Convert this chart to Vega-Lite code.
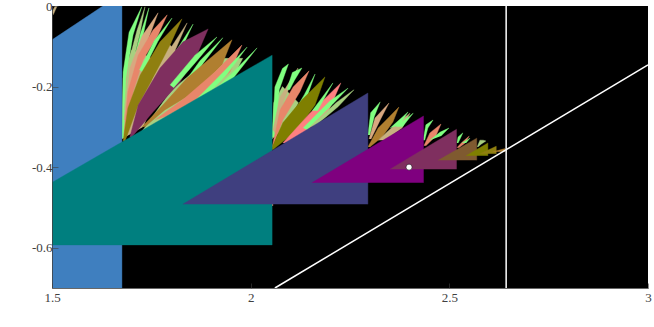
{"$schema":"https://vega.github.io/schema/vega-lite/v6.json","width":596,"height":282,"autosize":{"type":"none"},"padding":{"left":52,"top":6,"right":6,"bottom":33},"background":"white","view":{"fill":"#000000","stroke":null},"datasets":{"polys":[
{"s":"tl","c":"tan","i":0,"x":1.5,"y":-0.015},{"s":"tl","c":"tan","i":1,"x":1.508,"y":0},{"s":"tl","c":"tan","i":2,"x":1.513,"y":0},{"s":"tl","c":"tan","i":3,"x":1.503,"y":-0.022},
{"s":"b1","c":"tan","i":0,"x":1.676,"y":-0.33},{"s":"b1","c":"tan","i":1,"x":1.679,"y":-0.18},{"s":"b1","c":"tan","i":2,"x":1.70,"y":-0.11},{"s":"b1","c":"tan","i":3,"x":1.73,"y":-0.12},{"s":"b1","c":"tan","i":4,"x":1.75,"y":-0.13},{"s":"b1","c":"tan","i":5,"x":1.79,"y":-0.09},{"s":"b1","c":"tan","i":6,"x":1.82,"y":-0.12},{"s":"b1","c":"tan","i":7,"x":1.76,"y":-0.22},{"s":"b1","c":"tan","i":8,"x":1.73,"y":-0.30},
{"s":"b2","c":"sage","i":0,"x":1.72,"y":-0.32},{"s":"b2","c":"sage","i":1,"x":1.80,"y":-0.21},{"s":"b2","c":"sage","i":2,"x":1.86,"y":-0.16},{"s":"b2","c":"sage","i":3,"x":1.90,"y":-0.15},{"s":"b2","c":"sage","i":4,"x":1.92,"y":-0.13},{"s":"b2","c":"sage","i":5,"x":1.98,"y":-0.13},{"s":"b2","c":"sage","i":6,"x":1.95,"y":-0.19},{"s":"b2","c":"sage","i":7,"x":1.85,"y":-0.25},
{"s":"1a","c":"green","i":0,"x":1.676,"y":-0.328},{"s":"1a","c":"green","i":1,"x":1.679,"y":-0.164},{"s":"1a","c":"green","i":2,"x":1.694,"y":-0.065},{"s":"1a","c":"green","i":3,"x":1.726,"y":-0.002},{"s":"1a","c":"green","i":4,"x":1.704,"y":-0.072},{"s":"1a","c":"green","i":5,"x":1.686,"y":-0.179},{"s":"1a","c":"green","i":6,"x":1.681,"y":-0.328},
{"s":"1b","c":"sage","i":0,"x":1.681,"y":-0.258},{"s":"1b","c":"sage","i":1,"x":1.694,"y":-0.134},{"s":"1b","c":"sage","i":2,"x":1.714,"y":-0.060},{"s":"1b","c":"sage","i":3,"x":1.734,"y":-0.002},{"s":"1b","c":"sage","i":4,"x":1.722,"y":-0.065},{"s":"1b","c":"sage","i":5,"x":1.704,"y":-0.139},{"s":"1b","c":"sage","i":6,"x":1.686,"y":-0.258},
{"s":"1c","c":"green","i":0,"x":1.689,"y":-0.233},{"s":"1c","c":"green","i":1,"x":1.706,"y":-0.134},{"s":"1c","c":"green","i":2,"x":1.722,"y":-0.07},{"s":"1c","c":"green","i":3,"x":1.744,"y":-0.005},{"s":"1c","c":"green","i":4,"x":1.730,"y":-0.07},{"s":"1c","c":"green","i":5,"x":1.712,"y":-0.139},{"s":"1c","c":"green","i":6,"x":1.692,"y":-0.233},
{"s":"1d","c":"ltan","i":0,"x":1.681,"y":-0.283},{"s":"1d","c":"ltan","i":1,"x":1.696,"y":-0.154},{"s":"1d","c":"ltan","i":2,"x":1.727,"y":-0.074},{"s":"1d","c":"ltan","i":3,"x":1.767,"y":-0.017},{"s":"1d","c":"ltan","i":4,"x":1.740,"y":-0.089},{"s":"1d","c":"ltan","i":5,"x":1.711,"y":-0.164},{"s":"1d","c":"ltan","i":6,"x":1.689,"y":-0.283},
{"s":"1e","c":"salmon","i":0,"x":1.681,"y":-0.320},{"s":"1e","c":"salmon","i":1,"x":1.691,"y":-0.213},{"s":"1e","c":"salmon","i":2,"x":1.717,"y":-0.122},{"s":"1e","c":"salmon","i":3,"x":1.754,"y":-0.060},{"s":"1e","c":"salmon","i":4,"x":1.790,"y":-0.022},{"s":"1e","c":"salmon","i":5,"x":1.767,"y":-0.072},{"s":"1e","c":"salmon","i":6,"x":1.729,"y":-0.134},{"s":"1e","c":"salmon","i":7,"x":1.704,"y":-0.213},{"s":"1e","c":"salmon","i":8,"x":1.689,"y":-0.320},
{"s":"1f","c":"green","i":0,"x":1.720,"y":-0.159},{"s":"1f","c":"green","i":1,"x":1.758,"y":-0.085},{"s":"1f","c":"green","i":2,"x":1.802,"y":-0.030},{"s":"1f","c":"green","i":3,"x":1.766,"y":-0.089},{"s":"1f","c":"green","i":4,"x":1.728,"y":-0.164},
{"s":"1g","c":"olive2","i":0,"x":1.679,"y":-0.335},{"s":"1g","c":"olive2","i":1,"x":1.691,"y":-0.253},{"s":"1g","c":"olive2","i":2,"x":1.722,"y":-0.171},{"s":"1g","c":"olive2","i":3,"x":1.772,"y":-0.089},{"s":"1g","c":"olive2","i":4,"x":1.827,"y":-0.032},{"s":"1g","c":"olive2","i":5,"x":1.797,"y":-0.097},{"s":"1g","c":"olive2","i":6,"x":1.754,"y":-0.179},{"s":"1g","c":"olive2","i":7,"x":1.717,"y":-0.246},{"s":"1g","c":"olive2","i":8,"x":1.684,"y":-0.335},
{"s":"1h","c":"tan","i":0,"x":1.752,"y":-0.184},{"s":"1h","c":"tan","i":1,"x":1.795,"y":-0.11},{"s":"1h","c":"tan","i":2,"x":1.840,"y":-0.042},{"s":"1h","c":"tan","i":3,"x":1.81,"y":-0.11},{"s":"1h","c":"tan","i":4,"x":1.765,"y":-0.184},
{"s":"1h2","c":"green","i":0,"x":1.762,"y":-0.184},{"s":"1h2","c":"green","i":1,"x":1.81,"y":-0.115},{"s":"1h2","c":"green","i":2,"x":1.855,"y":-0.045},{"s":"1h2","c":"green","i":3,"x":1.822,"y":-0.115},{"s":"1h2","c":"green","i":4,"x":1.772,"y":-0.189},
{"s":"1i","c":"maroon","i":0,"x":1.696,"y":-0.325},{"s":"1i","c":"maroon","i":1,"x":1.717,"y":-0.246},{"s":"1i","c":"maroon","i":2,"x":1.772,"y":-0.154},{"s":"1i","c":"maroon","i":3,"x":1.830,"y":-0.089},{"s":"1i","c":"maroon","i":4,"x":1.893,"y":-0.057},{"s":"1i","c":"maroon","i":5,"x":1.868,"y":-0.114},{"s":"1i","c":"maroon","i":6,"x":1.822,"y":-0.189},{"s":"1i","c":"maroon","i":7,"x":1.754,"y":-0.263},{"s":"1i","c":"maroon","i":8,"x":1.701,"y":-0.325},
{"s":"1j","c":"green","i":0,"x":1.797,"y":-0.196},{"s":"1j","c":"green","i":1,"x":1.860,"y":-0.122},{"s":"1j","c":"green","i":2,"x":1.915,"y":-0.077},{"s":"1j","c":"green","i":3,"x":1.868,"y":-0.132},{"s":"1j","c":"green","i":4,"x":1.806,"y":-0.203},
{"s":"1j2","c":"green","i":0,"x":1.815,"y":-0.215},{"s":"1j2","c":"green","i":1,"x":1.873,"y":-0.135},{"s":"1j2","c":"green","i":2,"x":1.930,"y":-0.079},{"s":"1j2","c":"green","i":3,"x":1.882,"y":-0.14},{"s":"1j2","c":"green","i":4,"x":1.825,"y":-0.22},
{"s":"1k","c":"orange","i":0,"x":1.727,"y":-0.300},{"s":"1k","c":"orange","i":1,"x":1.779,"y":-0.246},{"s":"1k","c":"orange","i":2,"x":1.840,"y":-0.179},{"s":"1k","c":"orange","i":3,"x":1.893,"y":-0.134},{"s":"1k","c":"orange","i":4,"x":1.953,"y":-0.084},{"s":"1k","c":"orange","i":5,"x":1.928,"y":-0.146},{"s":"1k","c":"orange","i":6,"x":1.860,"y":-0.213},{"s":"1k","c":"orange","i":7,"x":1.784,"y":-0.258},{"s":"1k","c":"orange","i":8,"x":1.734,"y":-0.300},
{"s":"1l","c":"salmon","i":0,"x":1.759,"y":-0.283},{"s":"1l","c":"salmon","i":1,"x":1.835,"y":-0.228},{"s":"1l","c":"salmon","i":2,"x":1.910,"y":-0.164},{"s":"1l","c":"salmon","i":3,"x":1.978,"y":-0.097},{"s":"1l","c":"salmon","i":4,"x":1.948,"y":-0.164},{"s":"1l","c":"salmon","i":5,"x":1.873,"y":-0.228},{"s":"1l","c":"salmon","i":6,"x":1.784,"y":-0.275},
{"s":"1m","c":"green","i":0,"x":1.85,"y":-0.245},{"s":"1m","c":"green","i":1,"x":1.93,"y":-0.165},{"s":"1m","c":"green","i":2,"x":1.991,"y":-0.102},{"s":"1m","c":"green","i":3,"x":1.94,"y":-0.17},{"s":"1m","c":"green","i":4,"x":1.862,"y":-0.25},
{"s":"1m2","c":"green","i":0,"x":1.87,"y":-0.245},{"s":"1m2","c":"green","i":1,"x":1.95,"y":-0.17},{"s":"1m2","c":"green","i":2,"x":2.016,"y":-0.104},{"s":"1m2","c":"green","i":3,"x":1.958,"y":-0.177},{"s":"1m2","c":"green","i":4,"x":1.885,"y":-0.24},
{"s":"b3","c":"sage","i":0,"x":2.054,"y":-0.33},{"s":"b3","c":"sage","i":1,"x":2.058,"y":-0.24},{"s":"b3","c":"sage","i":2,"x":2.08,"y":-0.20},{"s":"b3","c":"sage","i":3,"x":2.12,"y":-0.24},{"s":"b3","c":"sage","i":4,"x":2.09,"y":-0.30},
{"s":"2a","c":"green","i":0,"x":2.054,"y":-0.325},{"s":"2a","c":"green","i":1,"x":2.061,"y":-0.201},{"s":"2a","c":"green","i":2,"x":2.080,"y":-0.155},{"s":"2a","c":"green","i":3,"x":2.095,"y":-0.144},{"s":"2a","c":"green","i":4,"x":2.072,"y":-0.208},{"s":"2a","c":"green","i":5,"x":2.059,"y":-0.325},
{"s":"2b","c":"tan","i":0,"x":2.056,"y":-0.308},{"s":"2b","c":"tan","i":1,"x":2.074,"y":-0.226},{"s":"2b","c":"tan","i":2,"x":2.119,"y":-0.154},{"s":"2b","c":"tan","i":3,"x":2.084,"y":-0.233},{"s":"2b","c":"tan","i":4,"x":2.061,"y":-0.315},
{"s":"2c","c":"green","i":0,"x":2.091,"y":-0.208},{"s":"2c","c":"green","i":1,"x":2.105,"y":-0.165},{"s":"2c","c":"green","i":2,"x":2.129,"y":-0.154},{"s":"2c","c":"green","i":3,"x":2.11,"y":-0.185},{"s":"2c","c":"green","i":4,"x":2.098,"y":-0.208},
{"s":"2d","c":"salmon","i":0,"x":2.054,"y":-0.350},{"s":"2d","c":"salmon","i":1,"x":2.074,"y":-0.258},{"s":"2d","c":"salmon","i":2,"x":2.107,"y":-0.201},{"s":"2d","c":"salmon","i":3,"x":2.147,"y":-0.161},{"s":"2d","c":"salmon","i":4,"x":2.124,"y":-0.213},{"s":"2d","c":"salmon","i":5,"x":2.081,"y":-0.283},{"s":"2d","c":"salmon","i":6,"x":2.056,"y":-0.350},
{"s":"2e","c":"green","i":0,"x":2.105,"y":-0.27},{"s":"2e","c":"green","i":1,"x":2.135,"y":-0.22},{"s":"2e","c":"green","i":2,"x":2.162,"y":-0.169},{"s":"2e","c":"green","i":3,"x":2.142,"y":-0.225},{"s":"2e","c":"green","i":4,"x":2.112,"y":-0.271},
{"s":"2f","c":"olive","i":0,"x":2.051,"y":-0.357},{"s":"2f","c":"olive","i":1,"x":2.081,"y":-0.290},{"s":"2f","c":"olive","i":2,"x":2.129,"y":-0.233},{"s":"2f","c":"olive","i":3,"x":2.187,"y":-0.176},{"s":"2f","c":"olive","i":4,"x":2.162,"y":-0.246},{"s":"2f","c":"olive","i":5,"x":2.117,"y":-0.308},{"s":"2f","c":"olive","i":6,"x":2.056,"y":-0.357},
{"s":"2g","c":"pink","i":0,"x":2.081,"y":-0.340},{"s":"2g","c":"pink","i":1,"x":2.149,"y":-0.266},{"s":"2g","c":"pink","i":2,"x":2.227,"y":-0.191},{"s":"2g","c":"pink","i":3,"x":2.195,"y":-0.263},{"s":"2g","c":"pink","i":4,"x":2.124,"y":-0.325},{"s":"2g","c":"pink","i":5,"x":2.086,"y":-0.340},
{"s":"2h","c":"green","i":0,"x":2.155,"y":-0.26},{"s":"2h","c":"green","i":1,"x":2.207,"y":-0.191},{"s":"2h","c":"green","i":2,"x":2.168,"y":-0.26},
{"s":"2i","c":"green","i":0,"x":2.132,"y":-0.303},{"s":"2i","c":"green","i":1,"x":2.20,"y":-0.235},{"s":"2i","c":"green","i":2,"x":2.245,"y":-0.204},{"s":"2i","c":"green","i":3,"x":2.205,"y":-0.245},{"s":"2i","c":"green","i":4,"x":2.142,"y":-0.307},
{"s":"2i2","c":"sage","i":0,"x":2.15,"y":-0.30},{"s":"2i2","c":"sage","i":1,"x":2.215,"y":-0.24},{"s":"2i2","c":"sage","i":2,"x":2.260,"y":-0.208},{"s":"2i2","c":"sage","i":3,"x":2.22,"y":-0.25},{"s":"2i2","c":"sage","i":4,"x":2.16,"y":-0.30},
{"s":"3a","c":"green","i":0,"x":2.295,"y":-0.32},{"s":"3a","c":"green","i":1,"x":2.302,"y":-0.265},{"s":"3a","c":"green","i":2,"x":2.326,"y":-0.238},{"s":"3a","c":"green","i":3,"x":2.311,"y":-0.275},{"s":"3a","c":"green","i":4,"x":2.300,"y":-0.32},
{"s":"3b","c":"ltan","i":0,"x":2.298,"y":-0.330},{"s":"3b","c":"ltan","i":1,"x":2.313,"y":-0.278},{"s":"3b","c":"ltan","i":2,"x":2.348,"y":-0.241},{"s":"3b","c":"ltan","i":3,"x":2.326,"y":-0.283},{"s":"3b","c":"ltan","i":4,"x":2.303,"y":-0.330},
{"s":"3c","c":"orange","i":0,"x":2.295,"y":-0.350},{"s":"3c","c":"orange","i":1,"x":2.321,"y":-0.303},{"s":"3c","c":"orange","i":2,"x":2.346,"y":-0.278},{"s":"3c","c":"orange","i":3,"x":2.373,"y":-0.251},{"s":"3c","c":"orange","i":4,"x":2.358,"y":-0.288},{"s":"3c","c":"orange","i":5,"x":2.331,"y":-0.325},{"s":"3c","c":"orange","i":6,"x":2.300,"y":-0.350},
{"s":"3d","c":"tan","i":0,"x":2.321,"y":-0.333},{"s":"3d","c":"tan","i":1,"x":2.363,"y":-0.295},{"s":"3d","c":"tan","i":2,"x":2.401,"y":-0.266},{"s":"3d","c":"tan","i":3,"x":2.381,"y":-0.303},{"s":"3d","c":"tan","i":4,"x":2.338,"y":-0.333},
{"s":"3e","c":"green","i":0,"x":2.351,"y":-0.303},{"s":"3e","c":"green","i":1,"x":2.396,"y":-0.263},{"s":"3e","c":"green","i":2,"x":2.376,"y":-0.295},
{"s":"3f","c":"green","i":0,"x":2.365,"y":-0.30},{"s":"3f","c":"green","i":1,"x":2.409,"y":-0.266},{"s":"3f","c":"green","i":2,"x":2.382,"y":-0.30},
{"s":"4a","c":"green","i":0,"x":2.434,"y":-0.333},{"s":"4a","c":"green","i":1,"x":2.441,"y":-0.295},{"s":"4a","c":"green","i":2,"x":2.459,"y":-0.283},{"s":"4a","c":"green","i":3,"x":2.446,"y":-0.303},{"s":"4a","c":"green","i":4,"x":2.438,"y":-0.333},
{"s":"4b","c":"salmon","i":0,"x":2.436,"y":-0.347},{"s":"4b","c":"salmon","i":1,"x":2.451,"y":-0.315},{"s":"4b","c":"salmon","i":2,"x":2.479,"y":-0.293},{"s":"4b","c":"salmon","i":3,"x":2.466,"y":-0.323},{"s":"4b","c":"salmon","i":4,"x":2.441,"y":-0.347},
{"s":"4c","c":"green","i":0,"x":2.451,"y":-0.333},{"s":"4c","c":"green","i":1,"x":2.477,"y":-0.313},{"s":"4c","c":"green","i":2,"x":2.499,"y":-0.303},{"s":"4c","c":"green","i":3,"x":2.479,"y":-0.323},
{"s":"5a","c":"green","i":0,"x":2.519,"y":-0.340},{"s":"5a","c":"green","i":1,"x":2.522,"y":-0.325},{"s":"5a","c":"green","i":2,"x":2.534,"y":-0.315},{"s":"5a","c":"green","i":3,"x":2.527,"y":-0.330},{"s":"5a","c":"green","i":4,"x":2.522,"y":-0.340},
{"s":"5b","c":"salmon","i":0,"x":2.519,"y":-0.352},{"s":"5b","c":"salmon","i":1,"x":2.532,"y":-0.338},{"s":"5b","c":"salmon","i":2,"x":2.550,"y":-0.323},{"s":"5b","c":"salmon","i":3,"x":2.540,"y":-0.340},{"s":"5b","c":"salmon","i":4,"x":2.524,"y":-0.352},
{"s":"5c","c":"green","i":0,"x":2.532,"y":-0.340},{"s":"5c","c":"green","i":1,"x":2.552,"y":-0.328},{"s":"5c","c":"green","i":2,"x":2.542,"y":-0.340},
{"s":"6a","c":"sage","i":0,"x":2.570,"y":-0.350},{"s":"6a","c":"sage","i":1,"x":2.577,"y":-0.333},{"s":"6a","c":"sage","i":2,"x":2.585,"y":-0.333},{"s":"6a","c":"sage","i":3,"x":2.592,"y":-0.335},{"s":"6a","c":"sage","i":4,"x":2.580,"y":-0.343},{"s":"6a","c":"sage","i":5,"x":2.572,"y":-0.350},
{"s":"bit","c":"salmon","i":0,"x":2.046,"y":-0.499},{"s":"bit","c":"salmon","i":1,"x":2.056,"y":-0.489},{"s":"bit","c":"salmon","i":2,"x":2.056,"y":-0.496},
{"s":"blue","c":"blue","i":0,"x":1.5,"y":-0.084},{"s":"blue","c":"blue","i":1,"x":1.628,"y":0},{"s":"blue","c":"blue","i":2,"x":1.676,"y":0},{"s":"blue","c":"blue","i":3,"x":1.676,"y":-0.7},{"s":"blue","c":"blue","i":4,"x":1.5,"y":-0.7},
{"s":"teal","c":"teal","i":0,"x":1.5,"y":-0.438},{"s":"teal","c":"teal","i":1,"x":2.054,"y":-0.122},{"s":"teal","c":"teal","i":2,"x":2.054,"y":-0.593},{"s":"teal","c":"teal","i":3,"x":1.5,"y":-0.593},
{"s":"indigo","c":"indigo","i":0,"x":1.829,"y":-0.492},{"s":"indigo","c":"indigo","i":1,"x":2.295,"y":-0.216},{"s":"indigo","c":"indigo","i":2,"x":2.295,"y":-0.492},
{"s":"purple","c":"purple","i":0,"x":2.154,"y":-0.439},{"s":"purple","c":"purple","i":1,"x":2.435,"y":-0.273},{"s":"purple","c":"purple","i":2,"x":2.435,"y":-0.439},
{"s":"maroon","c":"maroon","i":0,"x":2.351,"y":-0.405},{"s":"maroon","c":"maroon","i":1,"x":2.518,"y":-0.306},{"s":"maroon","c":"maroon","i":2,"x":2.518,"y":-0.405},
{"s":"brown","c":"brown","i":0,"x":2.472,"y":-0.383},{"s":"brown","c":"brown","i":1,"x":2.569,"y":-0.328},{"s":"brown","c":"brown","i":2,"x":2.569,"y":-0.383},
{"s":"olive","c":"olive","i":0,"x":2.542,"y":-0.372},{"s":"olive","c":"olive","i":1,"x":2.597,"y":-0.340},{"s":"olive","c":"olive","i":2,"x":2.597,"y":-0.372},
{"s":"olive3","c":"olive2","i":0,"x":2.577,"y":-0.367},{"s":"olive3","c":"olive2","i":1,"x":2.618,"y":-0.348},{"s":"olive3","c":"olive2","i":2,"x":2.618,"y":-0.367},
{"s":"orange","c":"orange","i":0,"x":2.610,"y":-0.362},{"s":"orange","c":"orange","i":1,"x":2.640,"y":-0.354},{"s":"orange","c":"orange","i":2,"x":2.640,"y":-0.362}
],"tangent":[{"x":2.061,"y":-0.7},{"x":3,"y":-0.146}],"vert":[{"x":2.643}],"dot":[{"x":2.3986,"y":-0.4}]},
"layer":[
{"data":{"name":"polys"},"mark":{"type":"line","strokeWidth":0.4,"clip":true},"encoding":{"x":{"field":"x","type":"quantitative","scale":{"domain":[1.5,3],"nice":false,"zero":false},"axis":{"values":[1.5,2,2.5,3],"title":null,"grid":false,"labelExpr":"''+datum.value","labelFont":"Liberation Serif","labelFontSize":13,"labelColor":"#404040","labelPadding":8,"labelAngle":0,"labelFlush":false,"labelOverlap":false,"tickSize":-5,"tickColor":"#404040","tickWidth":0.6,"domainColor":"#404040","domainWidth":0.8,"zindex":1}},"y":{"field":"y","type":"quantitative","scale":{"domain":[-0.7,0],"nice":false,"zero":false},"axis":{"values":[0,-0.2,-0.4,-0.6],"title":null,"grid":false,"labelExpr":"''+datum.value","labelFont":"Liberation Serif","labelFontSize":13,"labelColor":"#404040","labelPadding":6,"labelFlush":false,"labelOverlap":false,"tickSize":-6,"tickColor":"#404040","tickWidth":0.6,"domainColor":"#404040","domainWidth":0.8,"zindex":1}},"detail":{"field":"s"},"order":{"field":"i","type":"quantitative"},"fill":{"field":"c","type":"nominal","legend":null,"scale":{"domain":["blue","teal","indigo","purple","maroon","brown","olive","olive2","orange","salmon","pink","tan","ltan","green","sage"],"range":["#3F7FBF","#007F7F","#3F3F7F","#7F007F","#7F2F5F","#7F5A30","#7F7F00","#8F7F10","#B07F30","#E8866A","#FF8080","#C8B080","#D8A880","#80FF80","#A8D080"]}},"stroke":{"field":"c","type":"nominal","legend":null,"scale":{"domain":["blue","teal","indigo","purple","maroon","brown","olive","olive2","orange","salmon","pink","tan","ltan","green","sage"],"range":["#3F7FBF","#007F7F","#3F3F7F","#7F007F","#7F2F5F","#7F5A30","#7F7F00","#8F7F10","#B07F30","#E8866A","#FF8080","#C8B080","#D8A880","#80FF80","#A8D080"]}}}},
{"data":{"name":"tangent"},"mark":{"type":"line","color":"#FFFFFF","strokeWidth":1.5},"encoding":{"x":{"field":"x","type":"quantitative"},"y":{"field":"y","type":"quantitative"}}},
{"data":{"name":"vert"},"mark":{"type":"rule","color":"#FFFFFF","strokeWidth":1.5},"encoding":{"x":{"field":"x","type":"quantitative"}}},
{"data":{"name":"dot"},"mark":{"type":"point","filled":true,"fill":"#FFFFFF","stroke":"#000000","strokeWidth":0.5,"size":36,"opacity":1},"encoding":{"x":{"field":"x","type":"quantitative"},"y":{"field":"y","type":"quantitative"}}}
]}
